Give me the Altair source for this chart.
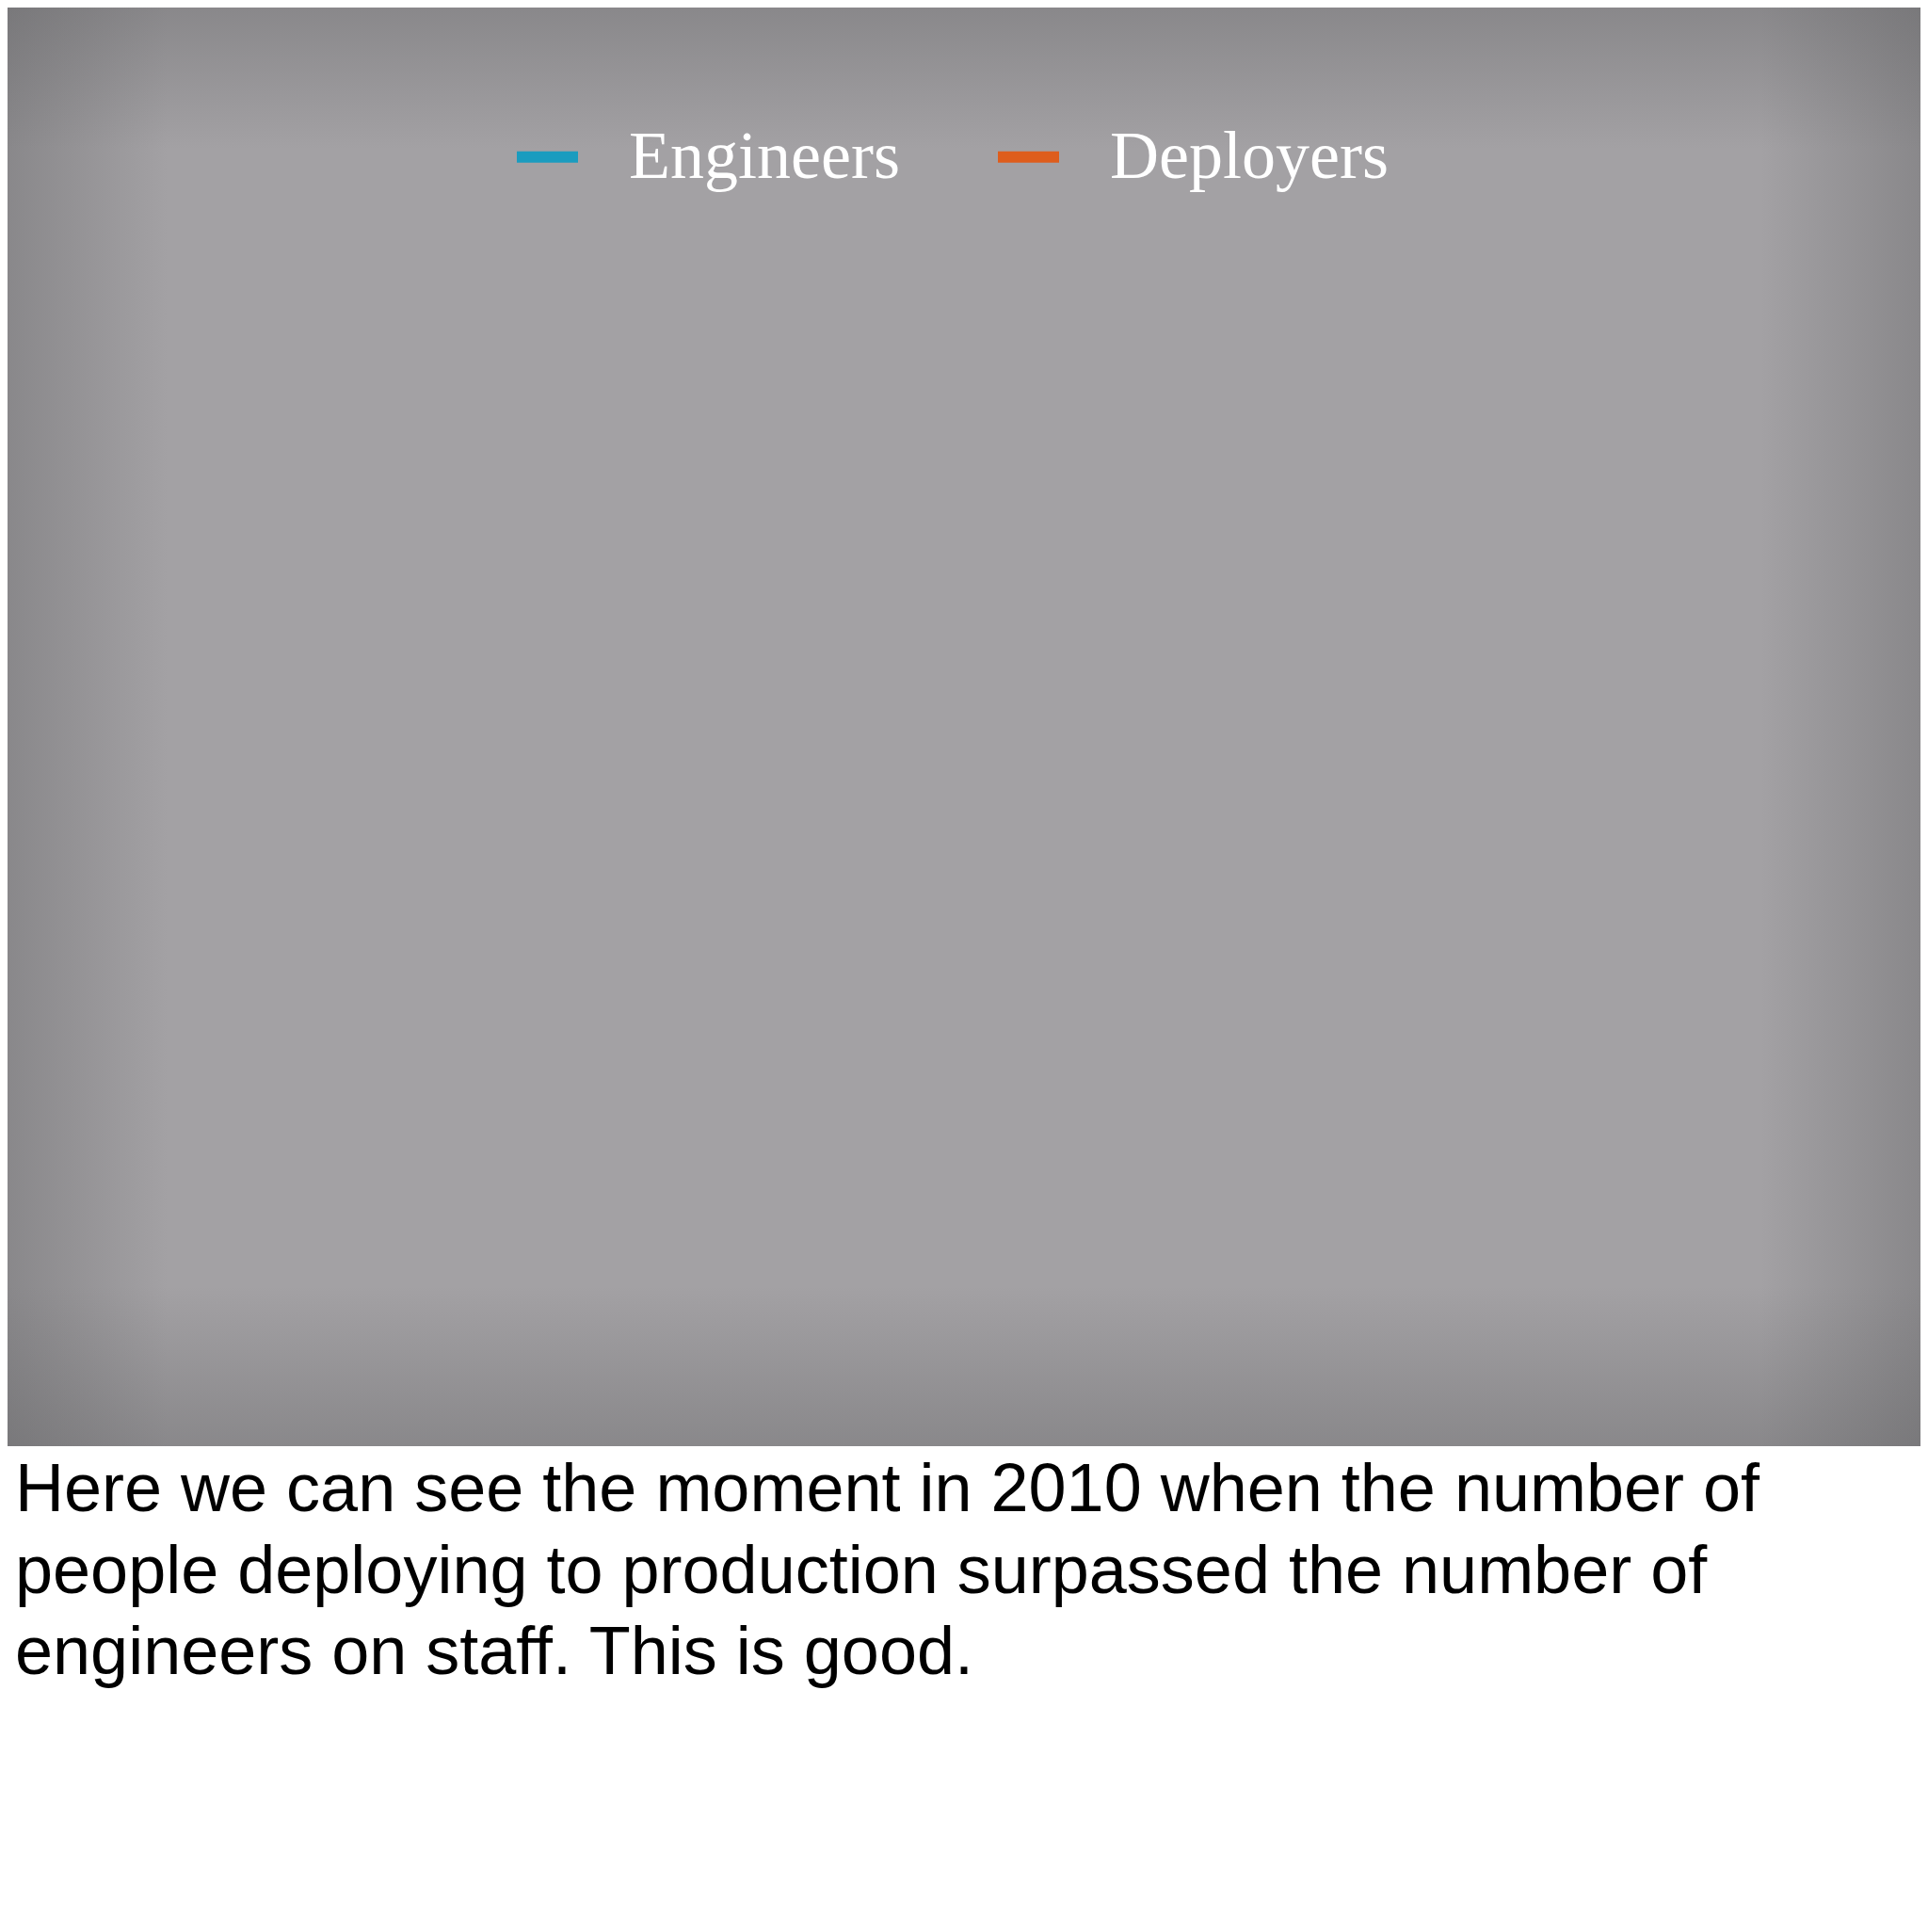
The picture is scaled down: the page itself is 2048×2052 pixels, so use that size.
import altair as alt
import pandas as pd

# series shown in the legend (lines not yet drawn on this slide)
series = ["Engineers", "Deployers"]
series_colors = ["#1a9cbf", "#de5d1c"]

caption_lines = [
    "Here we can see the moment in 2010 when the number of",
    "people deploying to production surpassed the number of",
    "engineers on staff. This is good.",
]

W = 2032
H = 2034
SLIDE_H = 1528  # grey slide area

slide_grey = "#a3a1a4"
edge = "rgba(95,95,97,0.38)"
clear = "rgba(95,95,97,0)"


def fade(x1, y1, x2, y2):
    return alt.LinearGradient(
        gradient="linear",
        stops=[alt.GradientStop(offset=0, color=edge), alt.GradientStop(offset=1, color=clear)],
        x1=x1, y1=y1, x2=x2, y2=y2,
    )


one = pd.DataFrame({"k": [0]})

base = alt.Chart(one).mark_rect(color=slide_grey).encode(
    x=alt.value(0), x2=alt.value(W), y=alt.value(0), y2=alt.value(SLIDE_H)
)

# vignette edges
left = alt.Chart(one).mark_rect(color=fade(0, 0, 1, 0)).encode(
    x=alt.value(0), x2=alt.value(170), y=alt.value(0), y2=alt.value(SLIDE_H)
)
right = alt.Chart(one).mark_rect(color=fade(1, 0, 0, 0)).encode(
    x=alt.value(W - 170), x2=alt.value(W), y=alt.value(0), y2=alt.value(SLIDE_H)
)
top = alt.Chart(one).mark_rect(color=fade(0, 0, 0, 1)).encode(
    x=alt.value(0), x2=alt.value(W), y=alt.value(0), y2=alt.value(150)
)
bottom = alt.Chart(one).mark_rect(color=fade(0, 1, 0, 0)).encode(
    x=alt.value(0), x2=alt.value(W), y=alt.value(SLIDE_H - 170), y2=alt.value(SLIDE_H)
)

legend_df = pd.DataFrame({"series": series})

lines = alt.Chart(legend_df).mark_line(opacity=0).encode(
    x=alt.value(0),
    y=alt.value(0),
    color=alt.Color(
        "series:N",
        scale=alt.Scale(domain=series, range=series_colors),
        sort=series,
        legend=alt.Legend(
            title=None,
            orient="none",
            legendX=535,
            legendY=120,
            direction="horizontal",
            symbolType="stroke",
            symbolSize=4225,
            symbolStrokeWidth=12,
            symbolOpacity=1,
            labelFont="Liberation Serif",
            labelFontSize=72,
            labelColor="white",
            labelOffset=48,
            labelLimit=600,
            columnPadding=80,
        ),
    ),
)

cap_df = pd.DataFrame({"line": caption_lines, "row": list(range(len(caption_lines)))})

caption = alt.Chart(cap_df).mark_text(
    align="left",
    baseline="alphabetic",
    font="Liberation Sans",
    fontSize=72,
    color="black",
).encode(
    x=alt.value(8),
    y=alt.Y("row:Q", scale=alt.Scale(domain=[0, 2], range=[1597, 1770]), axis=None),
    text="line:N",
)

chart = alt.layer(base, left, right, top, bottom, lines, caption).properties(
    width=W,
    height=H,
    padding=0,
    autosize=alt.AutoSizeParams(type="none"),
    background="white",
).configure_view(stroke=None)

chart.save("out.html", embed_options={"renderer": "svg", "actions": False})
